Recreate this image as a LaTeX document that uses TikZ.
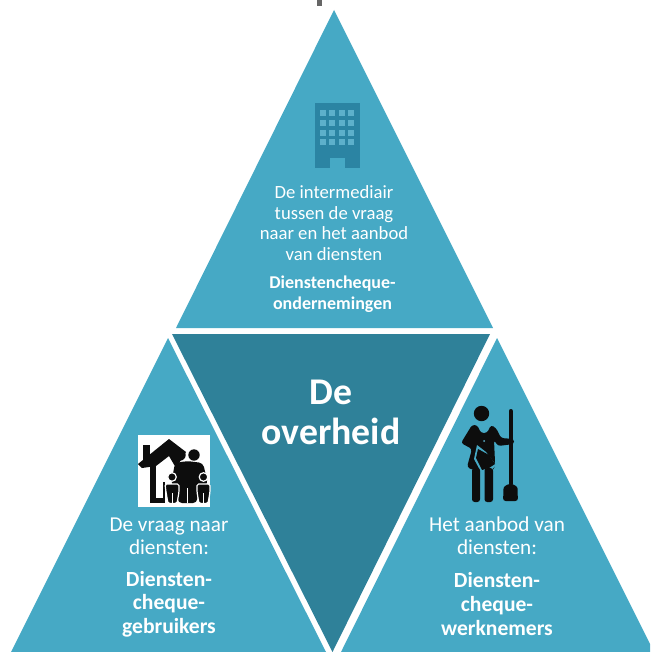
\documentclass[tikz,border=0pt]{standalone}
\usepackage{fontspec}
\setmainfont{Carlito}
\definecolor{lightT}{HTML}{46A9C5}
\definecolor{darkT}{HTML}{2F8199}
\definecolor{iconB}{HTML}{2B84A3}
\definecolor{winB}{HTML}{5DB0CB}
\definecolor{inkK}{HTML}{0D0D0D}
\tikzset{
  tri/.style={fill=lightT,draw=none},
  lbl/.style={text=white,font=\fontsize{15.9pt}{17.3pt}\selectfont,align=center,inner sep=0pt,anchor=center},
  lblb/.style={lbl,font=\fontsize{16.2pt}{17.7pt}\selectfont\bfseries},
  lbls/.style={lbl,font=\fontsize{13.5pt}{15.8pt}\selectfont\bfseries},
  tbody/.style={lbl,font=\fontsize{14pt}{15.6pt}\selectfont},
  ink/.style={fill=inkK,draw=none},
  inkl/.style={draw=inkK,line cap=round,line join=round},
  kid/.style={fill=inkK,draw=white,line width=0.9pt,rounded corners=1.2pt}
}
\begin{document}
\begin{tikzpicture}[x=0.75pt,y=-0.75pt]
\useasboundingbox (0,0) rectangle (650,652);
\fill[white] (0,0) rectangle (650,652);
\fill[fill=gray!80!black] (317,0) rectangle (322,6);
% triangles
\fill[tri] (334,10) -- (493,328) -- (176,328) -- cycle;
\fill[fill=darkT] (172,334) -- (490,334) -- (332.5,652) -- cycle;
\fill[tri] (168,338) -- (326,652) -- (11,652) -- cycle;
\fill[tri] (497,338) -- (650,644) -- (650,652) -- (341,652) -- cycle;
% building
\fill[iconB] (315,103) rectangle (360,168);
\foreach \r in {0,1,2,3}\foreach \c in {0,1,2,3}{
  \fill[winB] ({320+\c*9.3},{110+\r*9.8}) rectangle ++(6,6);
}
\fill[lightT] (330,158) rectangle (345,168);
% family icon
\fill[white] (138,435) rectangle (210,507);
\fill[ink] (138,464) -- (169,439) -- (186,452) -- (176,468) -- (169,456) -- (156,466) -- (142,468) -- cycle;
\fill[ink] (143,445) rectangle (150,460);
\fill[ink] (150,463) rectangle (156,503);
\fill[ink] (150,498) rectangle (165,503);
\fill[ink] (163,482) rectangle (165,502);
\fill[ink] (180,455) circle (5.7);
\fill[ink] (194,455) circle (5.7);
\fill[ink,rounded corners=3pt] (171,484) -- (175,463) -- (187,461) -- (203,463) -- (208,484) -- (198,490) -- (197,503) -- (178,503) -- (177,490) -- cycle;
\draw[white,line width=0.6pt] (187.5,488) -- (187.5,503);
\fill[inkK,draw=white,line width=0.9pt] (172,477) circle (4.3);
\fill[inkK,draw=white,line width=0.9pt] (203.5,477) circle (4.3);
\fill[kid] (165,484) -- (179,484) -- (179,492) -- (177,503.5) -- (168,503.5) -- (166,492) -- cycle;
\fill[kid] (197,484) -- (210,484) -- (210,492) -- (208,503.5) -- (199,503.5) -- (197,492) -- cycle;
\draw[white,line width=0.6pt] (172,493) -- (172,503) (203.5,493) -- (203.5,503);
% worker icon
\fill[ink] (481.5,413.5) circle (7.7);
\fill[ink,rounded corners=2pt] (472,425) -- (477,425) -- (481,433) -- (487,433) -- (491,425) -- (496,428) -- (501,438) -- (514,439) -- (514,444) -- (498,446) -- (494,440) -- (495,462) -- (494,470) -- (473,470) -- (467,467) -- (472,449) -- (461,443) -- cycle;
\fill[lightT] (477,445) -- (486,452) -- (496,465) -- (490,472) -- (481,472) -- (474,459) -- cycle;
\fill[ink] (478,449) -- (489,455) -- (495,464) -- (489,468) -- (482,470) -- (476,458) -- cycle;
\fill[ink,rounded corners=2pt] (472,468) rectangle (480,502);
\fill[ink,rounded corners=2pt] (484.5,468) rectangle (493,502);
\fill[winB] (484,441) circle (1);
\draw[inkl,line width=3pt] (510.7,411) -- (510.7,484);
\fill[ink,rounded corners=2pt] (503.5,491) arc (180:360:7) -- (518,501) -- (503,501) -- cycle;
% labels
\node[tbody] (topt) at (334,223) {De intermediair\\tussen de vraag\\naar en het aanbod\\van diensten};
\node[lbls] (topb) at (332.5,294.5) {Dienstencheque-\\ondernemingen};
\node[lbl,font=\fontsize{28.3pt}{30pt}\selectfont\bfseries] (mid) at (331,412) {De\\overheid};
\node[lbl] (leftt) at (169,536) {De vraag naar\\diensten:};
\node[lblb] (leftb) at (169,604) {Diensten-\\cheque-\\gebruikers};
\node[lbl] (rightt) at (497,536) {Het aanbod van\\diensten:};
\node[lblb] (rightb) at (497,604) {Diensten-\\cheque-\\werknemers};
\end{tikzpicture}
\end{document}
